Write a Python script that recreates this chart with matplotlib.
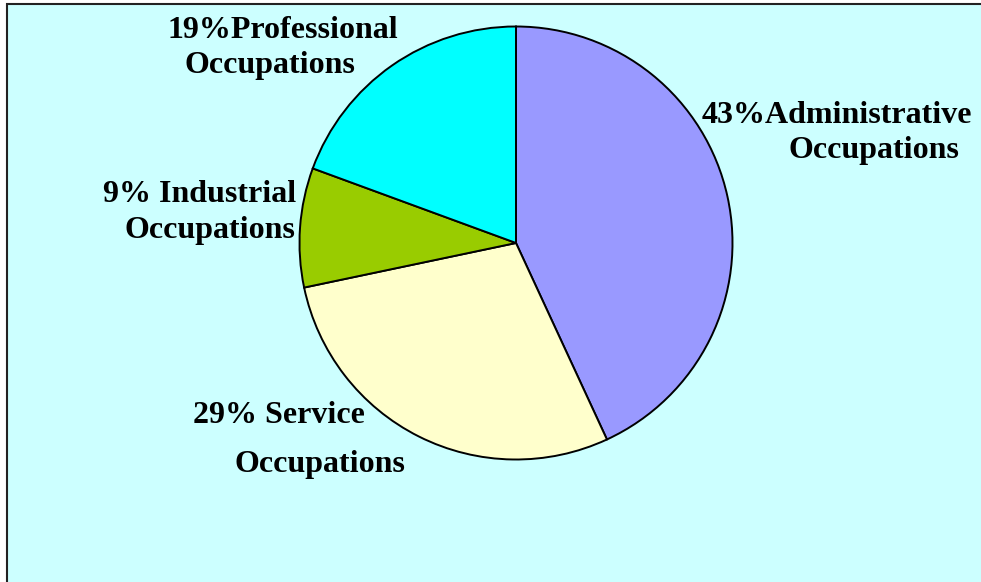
import matplotlib.pyplot as plt
from matplotlib.patches import Rectangle

categories = ['Administrative', 'Service', 'Industrial', 'Professional']
shares = [43.1, 28.6, 8.9, 19.4]
label_lines = [
    ['43%Administrative', 'Occupations'],
    ['29% Service', 'Occupations'],
    ['9% Industrial', 'Occupations'],
    ['19%Professional', 'Occupations'],
]
colors = ['#9999FF', '#FFFFCC', '#99CC00', '#00FFFF']

# label line anchors in pixels (left x, baseline y from top)
label_pos = [
    [(702, 123), (788, 158)],
    [(193, 423), (235, 472)],
    [(103, 202), (125, 238)],
    [(167, 38), (185, 73)],
]

W, H = 981, 582
fig = plt.figure(figsize=(W / 100, H / 100), dpi=100)
fig.patch.set_facecolor('white')
ax = fig.add_axes([0, 0, 1, 1])

# chart area background
ax.add_patch(Rectangle((6.5, -20), W + 20, H - 3.5 + 20, facecolor='#CCFFFF',
                       edgecolor='#222222', linewidth=1.5, zorder=0))

ax.pie(shares, colors=colors, startangle=90, counterclock=False,
       center=(516, H - 243), radius=216.5, frame=True,
       wedgeprops=dict(edgecolor='black', linewidth=1.4))
ax.set_xlim(0, W)
ax.set_ylim(0, H)
ax.set_aspect('equal')
ax.axis('off')

for lines, pos in zip(label_lines, label_pos):
    for txt, (x, y) in zip(lines, pos):
        ax.text(x, H - y, txt, ha='left', va='baseline',
                family='Liberation Serif', fontweight='bold', fontsize=23)

fig.savefig('out.png', dpi=100)
